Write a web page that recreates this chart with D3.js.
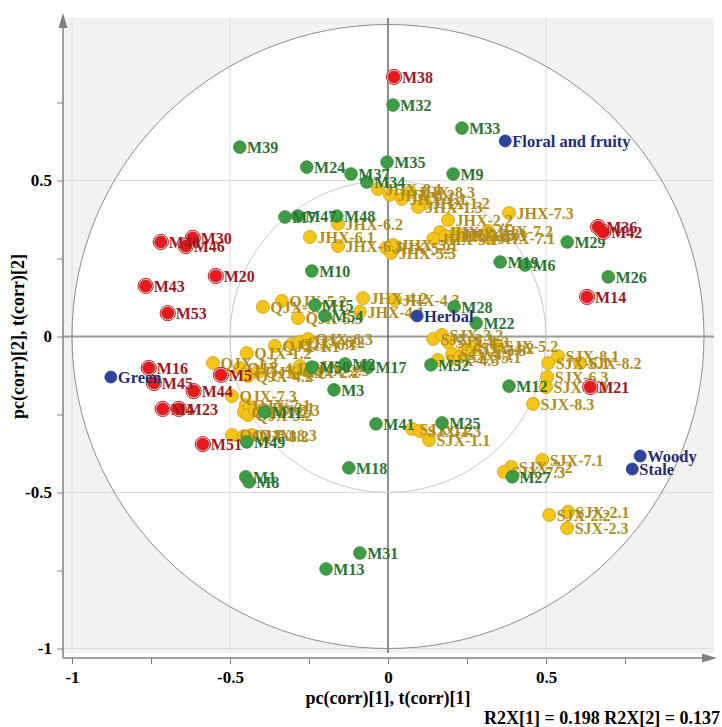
<!DOCTYPE html>
<html>
<head>
<meta charset="utf-8">
<script src="https://cdn.jsdelivr.net/npm/d3@7"></script>
<style>
    body { margin: 0; background: #fff; }
    svg text { font-family: "Liberation Serif", "Times New Roman", serif; font-weight: bold; }
</style>
</head>
<body>
<div id="chart"></div>
<script>
// loadings / scores: [label, pc1, pc2]
const sampleScores = [
    ["JHX-8.1", -0.032, 0.473], ["JHX-8.2", 0.006, 0.454], ["JHX-8.3", 0.070, 0.463],
    ["JHX-1.1", 0.044, 0.441], ["JHX-1.2", 0.117, 0.428], ["JHX-1.3", 0.095, 0.415],
    ["JHX-2.2", 0.190, 0.373], ["JHX-2.1", 0.165, 0.335], ["JHX-2.3", 0.212, 0.329],
    ["JHX-3.1", 0.143, 0.313], ["JHX-3.2", 0.181, 0.321], ["JHX-3.3", 0.234, 0.325],
    ["JHX-7.1", 0.323, 0.316], ["JHX-7.2", 0.317, 0.338], ["JHX-7.3", 0.383, 0.396],
    ["JHX-6.2", -0.158, 0.361], ["JHX-6.1", -0.247, 0.319], ["JHX-6.3", -0.158, 0.290],
    ["JHX-5.1", 0.016, 0.293], ["JHX-5.2", -0.006, 0.284], ["JHX-5.3", 0.010, 0.268],
    ["JHX-4.2", -0.079, 0.123], ["JHX-4.3", 0.022, 0.117], ["JHX-4.1", -0.089, 0.079],
    ["QJX-5.1", -0.396, 0.095], ["QJX-5.2", -0.336, 0.114], ["QJX-5.3", -0.285, 0.059],
    ["QJX-6.1", -0.304, -0.024], ["QJX-6.2", -0.279, -0.018], ["QJX-6.3", -0.253, -0.008],
    ["QJX-1.1", -0.358, -0.030], ["QJX-1.2", -0.447, -0.053], ["QJX-1.3", -0.554, -0.085],
    ["QJX-4.1", -0.469, -0.101], ["QJX-4.2", -0.443, -0.127], ["QJX-4.3", -0.412, -0.114],
    ["QJX-2.1", -0.279, -0.095], ["QJX-2.2", -0.295, -0.114], ["QJX-2.3", -0.263, -0.107],
    ["QJX-7.3", -0.494, -0.191], ["QJX-7.1", -0.450, -0.220], ["QJX-7.2", -0.456, -0.242],
    ["QJX-3.1", -0.437, -0.229], ["QJX-3.2", -0.443, -0.252], ["QJX-3.3", -0.421, -0.236],
    ["QJX-8.1", -0.494, -0.316], ["QJX-8.2", -0.456, -0.319], ["QJX-8.3", -0.431, -0.316],
    ["SJX-3.1", 0.143, -0.008], ["SJX-3.2", 0.171, 0.005], ["SJX-3.3", 0.190, -0.018],
    ["SJX-4.1", 0.203, -0.056], ["SJX-4.2", 0.269, -0.037], ["SJX-4.3", 0.158, -0.075],
    ["SJX-5.1", 0.228, -0.066], ["SJX-5.2", 0.345, -0.030], ["SJX-5.3", 0.244, -0.043],
    ["SJX-8.1", 0.538, -0.063], ["SJX-6.1", 0.507, -0.085], ["SJX-8.2", 0.608, -0.085],
    ["SJX-6.3", 0.504, -0.130], ["SJX-6.2", 0.500, -0.162], ["SJX-8.3", 0.459, -0.216],
    ["SJX-1.2", 0.076, -0.296], ["SJX-1.3", 0.101, -0.303], ["SJX-1.1", 0.130, -0.332],
    ["SJX-7.1", 0.488, -0.396], ["SJX-7.2", 0.390, -0.418], ["SJX-7.3", 0.367, -0.434],
    ["SJX-2.1", 0.570, -0.562], ["SJX-2.2", 0.510, -0.572], ["SJX-2.3", 0.567, -0.614]
];

const greenVars = [
    ["M32", 0.016, 0.742], ["M33", 0.234, 0.668], ["M39", -0.469, 0.607],
    ["M35", -0.003, 0.559], ["M24", -0.257, 0.543], ["M9", 0.206, 0.521],
    ["M37", -0.117, 0.521], ["M34", -0.067, 0.495], ["M7", -0.326, 0.383],
    ["M47", -0.285, 0.386], ["M48", -0.162, 0.386], ["M10", -0.241, 0.210],
    ["M29", 0.567, 0.303], ["M19", 0.355, 0.239], ["M6", 0.434, 0.229],
    ["M26", 0.697, 0.191], ["M15", -0.231, 0.101], ["M54", -0.200, 0.066],
    ["M28", 0.209, 0.095], ["M22", 0.279, 0.043], ["M52", 0.136, -0.091],
    ["M50", -0.241, -0.098], ["M2", -0.136, -0.088], ["M17", -0.063, -0.098],
    ["M12", 0.383, -0.159], ["M3", -0.171, -0.171], ["M11", -0.390, -0.242],
    ["M41", -0.038, -0.280], ["M25", 0.171, -0.277], ["M49", -0.447, -0.338],
    ["M18", -0.124, -0.421], ["M27", 0.393, -0.450], ["M1", -0.450, -0.450],
    ["M8", -0.440, -0.466], ["M31", -0.089, -0.694], ["M13", -0.196, -0.745]
];

const redVars = [
    ["M38", 0.019, 0.832], ["M36", 0.665, 0.351], ["M42", 0.681, 0.335],
    ["M40", -0.719, 0.303], ["M30", -0.618, 0.316], ["M46", -0.640, 0.290],
    ["M20", -0.545, 0.194], ["M43", -0.767, 0.162], ["M14", 0.630, 0.127],
    ["M53", -0.697, 0.075], ["M16", -0.757, -0.101], ["M5", -0.529, -0.123],
    ["M45", -0.741, -0.149], ["M21", 0.640, -0.162], ["M44", -0.615, -0.175],
    ["M4", -0.713, -0.232], ["M23", -0.662, -0.232], ["M51", -0.586, -0.345]
];

const aromaVars = [
    ["Floral and fruity", 0.371, 0.627], ["Herbal", 0.092, 0.066],
    ["Green", -0.877, -0.130], ["Woody", 0.798, -0.383], ["Stale", 0.773, -0.425]
];

const axisTicks = [-1, -0.75, -0.5, -0.25, 0, 0.25, 0.5, 0.75];
const majorTicks = [-1, -0.5, 0, 0.5];
const majorLabels = ["-1", "-0.5", "0", "0.5"];
const gridValues = [-1, -0.5, 0.5];

const width = 722, height = 727;

const svg = d3.select("#chart").append("svg")
    .attr("width", width)
    .attr("height", height);

const x = d3.scaleLinear().domain([-1, 1]).range([72, 704]);
const y = d3.scaleLinear().domain([-1, 1]).range([648.5, 24.5]);

const plotLeft = 63, plotRight = 714, plotTop = 18, plotBottom = 658, bgBottom = 653;

// plot background
svg.append("rect")
    .attr("x", plotLeft).attr("y", plotTop)
    .attr("width", plotRight - plotLeft).attr("height", bgBottom - plotTop)
    .style("fill", "#f2f2f2");

svg.append("ellipse")
    .attr("cx", x(0)).attr("cy", y(0))
    .attr("rx", x(1) - x(0)).attr("ry", y(0) - y(1))
    .style("fill", "#fff");

// grid
gridValues.forEach(v => {
    svg.append("line")
        .attr("x1", x(v)).attr("x2", x(v))
        .attr("y1", plotTop).attr("y2", bgBottom)
        .style("stroke", "#dcdcdc").style("stroke-width", "1px");
    svg.append("line")
        .attr("x1", plotLeft).attr("x2", plotRight)
        .attr("y1", y(v)).attr("y2", y(v))
        .style("stroke", "#dcdcdc").style("stroke-width", "1px");
});

// zero lines
svg.append("line")
    .attr("x1", plotLeft).attr("x2", plotRight)
    .attr("y1", y(0)).attr("y2", y(0))
    .style("stroke", "#9a9a9a").style("stroke-width", "2px");
svg.append("line")
    .attr("x1", x(0)).attr("x2", x(0))
    .attr("y1", plotTop).attr("y2", bgBottom)
    .style("stroke", "#6a6a6a").style("stroke-width", "1.5px");

// correlation circles (r = 1 and r = 0.5)
svg.append("ellipse")
    .attr("cx", x(0)).attr("cy", y(0))
    .attr("rx", x(1) - x(0)).attr("ry", y(0) - y(1))
    .style("fill", "none").style("stroke", "#8c8c8c").style("stroke-width", "1px");
svg.append("ellipse")
    .attr("cx", x(0)).attr("cy", y(0))
    .attr("rx", x(0.5) - x(0)).attr("ry", y(0) - y(0.5))
    .style("fill", "none").style("stroke", "#c8c8c8").style("stroke-width", "1px");

// axes
const fmt = v => {
    const i = majorTicks.indexOf(v);
    return i < 0 ? "" : majorLabels[i];
};

const xAxis = svg.append("g")
    .attr("transform", "translate(0," + plotBottom + ")")
    .call(d3.axisBottom(x).tickValues(axisTicks).tickFormat(fmt)
        .tickSizeInner(6).tickSizeOuter(0).tickPadding(7));

const yAxis = svg.append("g")
    .attr("transform", "translate(" + plotLeft + ",0)")
    .call(d3.axisLeft(y).tickValues(axisTicks).tickFormat(fmt)
        .tickSizeInner(6).tickSizeOuter(0).tickPadding(5));

[xAxis, yAxis].forEach(a => {
    a.select(".domain").remove();
    a.selectAll(".tick line").style("stroke", "#808080").style("stroke-width", "1px");
    a.selectAll(".tick text")
        .style("fill", "#000")
        .style("font-size", "17px")
        .style("font-family", "'Liberation Serif', serif")
        .style("font-weight", "bold");
});

// axis lines with arrows
svg.append("line")
    .attr("x1", plotLeft).attr("x2", plotLeft)
    .attr("y1", plotBottom).attr("y2", 24)
    .style("stroke", "#808080").style("stroke-width", "1.5px");
svg.append("path")
    .attr("d", `M${plotLeft - 4.5},28 L${plotLeft},13 L${plotLeft + 4.5},28 Z`)
    .style("fill", "#808080");
svg.append("line")
    .attr("x1", plotLeft).attr("x2", 708)
    .attr("y1", plotBottom).attr("y2", plotBottom)
    .style("stroke", "#808080").style("stroke-width", "1.5px");
svg.append("path")
    .attr("d", `M702,${plotBottom - 4.5} L717,${plotBottom} L702,${plotBottom + 4.5} Z`)
    .style("fill", "#808080");

// axis titles
svg.append("text")
    .attr("x", x(0)).attr("y", 704)
    .attr("text-anchor", "middle")
    .style("font-size", "18px")
    .text("pc(corr)[1], t(corr)[1]");

svg.append("text")
    .attr("transform", "translate(24," + y(0) + ") rotate(-90)")
    .attr("text-anchor", "middle")
    .style("font-size", "18px")
    .text("pc(corr)[2], t(corr)[2]");

svg.append("text")
    .attr("x", 720).attr("y", 724)
    .attr("text-anchor", "end")
    .style("font-size", "18px")
    .text("R2X[1] = 0.198 R2X[2] = 0.137");

// point groups
function drawGroup(data, opt) {
    const g = svg.append("g");
    if (opt.ring) {
        g.selectAll(".ring").data(data).enter().append("circle")
            .attr("cx", d => x(d[1])).attr("cy", d => y(d[2]))
            .attr("r", opt.r + 1.6)
            .style("fill", "#fbe3e3")
            .style("stroke", opt.stroke)
            .style("stroke-width", "1px");
    }
    g.selectAll(".dot").data(data).enter().append("circle")
        .attr("cx", d => x(d[1])).attr("cy", d => y(d[2]))
        .attr("r", opt.r)
        .style("fill", opt.fill)
        .style("stroke", opt.stroke)
        .style("stroke-width", "0.8px");
    g.selectAll("text").data(data).enter().append("text")
        .attr("x", d => x(d[1]) + opt.r + (opt.ring ? 2 : 1))
        .attr("y", d => y(d[2]))
        .attr("dy", "0.36em")
        .style("fill", opt.label)
        .style("font-size", opt.size + "px")
        .text(d => d[0]);
}

drawGroup(sampleScores, { r: 6.5, fill: "#f4c417", stroke: "#c9a114", label: "#b08c1a", size: 16 });
drawGroup(greenVars, { r: 6.3, fill: "#3e9c45", stroke: "#2f8435", label: "#2b7532", size: 16 });
drawGroup(redVars, { r: 6, fill: "#e8191c", stroke: "#b81c1f", label: "#a3171e", size: 16, ring: true });
drawGroup(aromaVars, { r: 6, fill: "#2e449e", stroke: "#243a8a", label: "#1f2e72", size: 16.5 });
</script>
</body>
</html>
